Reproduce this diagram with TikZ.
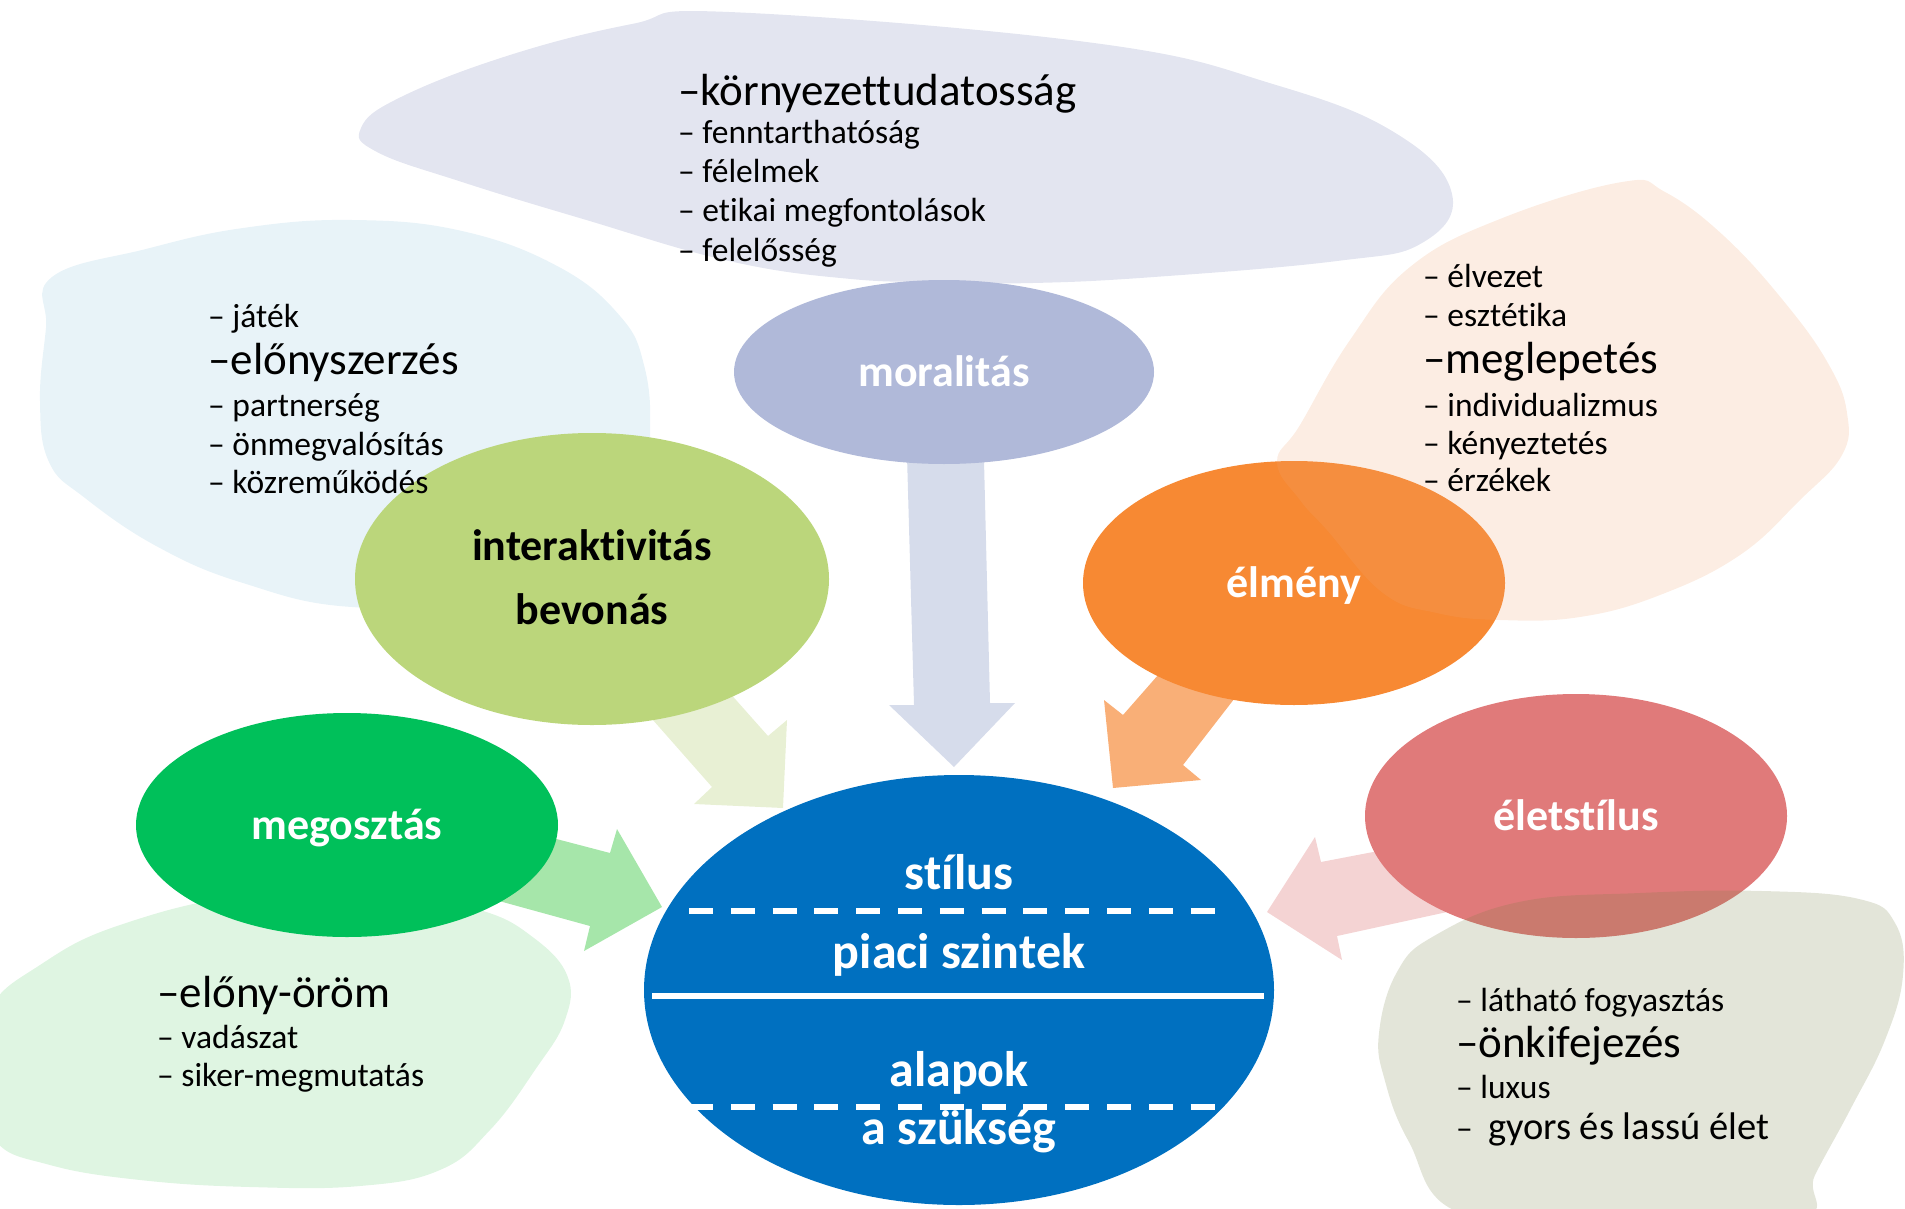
\documentclass[tikz,border=0pt]{standalone}
\usepackage{fontspec}
\setmainfont{Carlito}[Ligatures=NoCommon]
\usetikzlibrary{shapes.geometric}
\definecolor{blobtop}{RGB}{227,229,240}
\definecolor{blobtl}{RGB}{232,243,248}
\definecolor{blobbl}{RGB}{223,245,226}
\definecolor{peachc}{RGB}{240,165,115}
\definecolor{olivec}{RGB}{115,125,65}
\definecolor{cmoral}{RGB}{176,185,217}
\definecolor{cinter}{RGB}{187,214,123}
\definecolor{celmeny}{RGB}{247,137,51}
\definecolor{cmegoszt}{RGB}{0,192,90}
\definecolor{celet}{RGB}{224,122,122}
\definecolor{ccenter}{RGB}{0,112,192}
\definecolor{adown}{RGB}{214,220,235}
\definecolor{alg}{RGB}{232,240,212}
\definecolor{aor}{RGB}{249,175,119}
\definecolor{agr}{RGB}{166,230,170}
\definecolor{apk}{RGB}{244,211,211}
\tikzset{
  sm/.style={anchor=base west, inner sep=0pt, font=\fontsize{33.5}{40}\selectfont},
  lg/.style={anchor=base west, inner sep=0pt, font=\fontsize{45}{54}\selectfont},
  elab/.style={anchor=base, inner sep=0pt, text=white, font=\bfseries\fontsize{44}{52}\selectfont},
  clab/.style={anchor=base, inner sep=0pt, text=white, font=\bfseries\fontsize{50}{58}\selectfont},
  bubble/.style={ellipse, draw=none, inner sep=0pt},
  blob/.style={smooth cycle, tension=0.7},
}
\begin{document}
\begin{tikzpicture}[x=1pt,y=-1pt]
\useasboundingbox (0,0) rectangle (1905,1209);
\clip (0,0) rectangle (1905,1209);
% background blobs
\fill[blobtop] plot[blob] coordinates {(361,128) (401,97) (510,55) (632,24) (729,12) (1094,43) (1276,85) (1397,134) (1452,194) (1422,243) (1337,261) (1154,277) (1033,283) (948,282) (851,279) (729,261) (583,219) (462,182) (377,152)};
\fill[blobtl] plot[blob] coordinates {(52,277) (146,249) (243,228) (352,220) (462,231) (559,267) (620,316) (644,365) (650,431) (640,500) (500,600) (352,607) (243,583) (158,547) (85,498) (49,462) (40,401) (46,328)};
\fill[blobbl] plot[blob] coordinates {(-10,1010) (40,965) (120,925) (250,895) (400,895) (480,910) (530,935) (567,975) (565,1020) (535,1070) (490,1130) (440,1170) (360,1186) (250,1187) (140,1180) (50,1165) (-5,1140) (-15,1080)};
% block arrows
\fill[adown] (906,420) -- (914,705) -- (889,705) -- (954,767) -- (1015,703) -- (990,703) -- (983,420) -- cycle;
\fill[alg] (593,652) -- (712,787) -- (694,804) -- (783,808) -- (787,720) -- (768,736) -- (673,629) -- cycle;
\fill[aor] (1180,650) -- (1123,715) -- (1104,700) -- (1113,788) -- (1201,780) -- (1183,765) -- (1255,672) -- cycle;
\fill[agr] (480,819) -- (610,853) -- (617,829) -- (662,907) -- (584,951) -- (590,926) -- (470,893) -- cycle;
\fill[apk] (1420,843) -- (1321,862) -- (1315,837) -- (1267,912) -- (1342,960) -- (1337,936) -- (1470,907) -- cycle;
% ellipses
\node[bubble, fill=cmoral, minimum width=420pt, minimum height=184pt] (moral) at (944,372) {};
\node[bubble, fill=cinter, minimum width=474pt, minimum height=292pt] (inter) at (592,579) {};
\node[bubble, fill=celmeny, minimum width=422pt, minimum height=244pt] (elmeny) at (1294,583) {};
\node[bubble, fill=cmegoszt, minimum width=422pt, minimum height=224pt] (megoszt) at (347,825) {};
\node[bubble, fill=celet, minimum width=422pt, minimum height=244pt] (elet) at (1576,816) {};
\node[bubble, fill=ccenter, minimum width=630pt, minimum height=430pt] (center) at (959,990) {};
% translucent blobs over ellipses
\fill[peachc, fill opacity=0.2] plot[blob] coordinates {(1622,182) (1500,219) (1410,267) (1350,340) (1300,425) (1277,462) (1300,500) (1327,530) (1383,593) (1437,613) (1500,620) (1580,617) (1660,595) (1740,555) (1800,500) (1842,455) (1847,413) (1829,365) (1786,304) (1725,237) (1665,192)};
\fill[olivec, fill opacity=0.2] plot[blob] coordinates {(1434,936) (1519,902) (1640,893) (1762,891) (1859,899) (1895,923) (1903,975) (1885,1040) (1850,1110) (1815,1175) (1795,1220) (1600,1222) (1458,1212) (1409,1142) (1385,1081) (1379,1033) (1397,972)};
% lines in the centre ellipse
\draw[white, line width=6pt, dash pattern=on 24pt off 17.8pt] (689,911) -- (1215,911);
\draw[white, line width=6pt] (652,996) -- (1264,996);
\draw[white, line width=6pt, dash pattern=on 24pt off 17.8pt] (689,1107) -- (1215,1107);
% ellipse labels
\node[elab] (tmoral) at (944,386) {moralitás};
\node[elab, text=black] (tinter1) at (592,560) {interaktivitás};
\node[elab, text=black] (tinter2) at (592,624) {bevonás};
\node[elab] (telmeny) at (1294,597) {élmény};
\node[elab] (tmegoszt) at (347,839) {megosztás};
\node[elab] (telet) at (1576,830) {életstílus};
\node[clab] (c1) at (959,889) {stílus};
\node[clab] (c2) at (959,968) {piaci szintek};
\node[clab] (c3) at (959,1086) {alapok};
\node[clab] (c4) at (959,1144) {a szükség};
% top list
\node[lg] (t1) at (678,106) {–környezettudatosság};
\node[sm] (t2) at (678,144) {– fenntarthatóság};
\node[sm] (t3) at (678,183) {– félelmek};
\node[sm] (t4) at (678,222) {– etikai megfontolások};
\node[sm] (t5) at (678,261) {– felelősség};
% top-left list
\node[sm] (l1) at (208,327) {– játék};
\node[lg] (l2) at (208,374) {–előnyszerzés};
\node[sm] (l3) at (208,416) {– partnerség};
\node[sm] (l4) at (208,455) {– önmegvalósítás};
\node[sm] (l5) at (208,493) {– közreműködés};
% top-right list
\node[sm] (r1) at (1423,287) {– élvezet};
\node[sm] (r2) at (1423,326) {– esztétika};
\node[lg] (r3) at (1423,373) {–meglepetés};
\node[sm] (r4) at (1423,416) {– individualizmus};
\node[sm] (r5) at (1423,454) {– kényeztetés};
\node[sm] (r6) at (1423,491) {– érzékek};
% bottom-left list
\node[lg] (b1) at (157,1007) {–előny-öröm};
\node[sm] (b2) at (157,1048) {– vadászat};
\node[sm] (b3) at (157,1086) {– siker-megmutatás};
% bottom-right list
\node[sm] (e1) at (1456,1011) {– látható fogyasztás};
\node[lg] (e2) at (1456,1057) {–önkifejezés};
\node[sm] (e3) at (1456,1098) {– luxus};
\node[sm] (e4) at (1456,1139) {–\ \ {\fontsize{38.5}{46}\selectfont gyors és lassú élet}};
\end{tikzpicture}
\end{document}
